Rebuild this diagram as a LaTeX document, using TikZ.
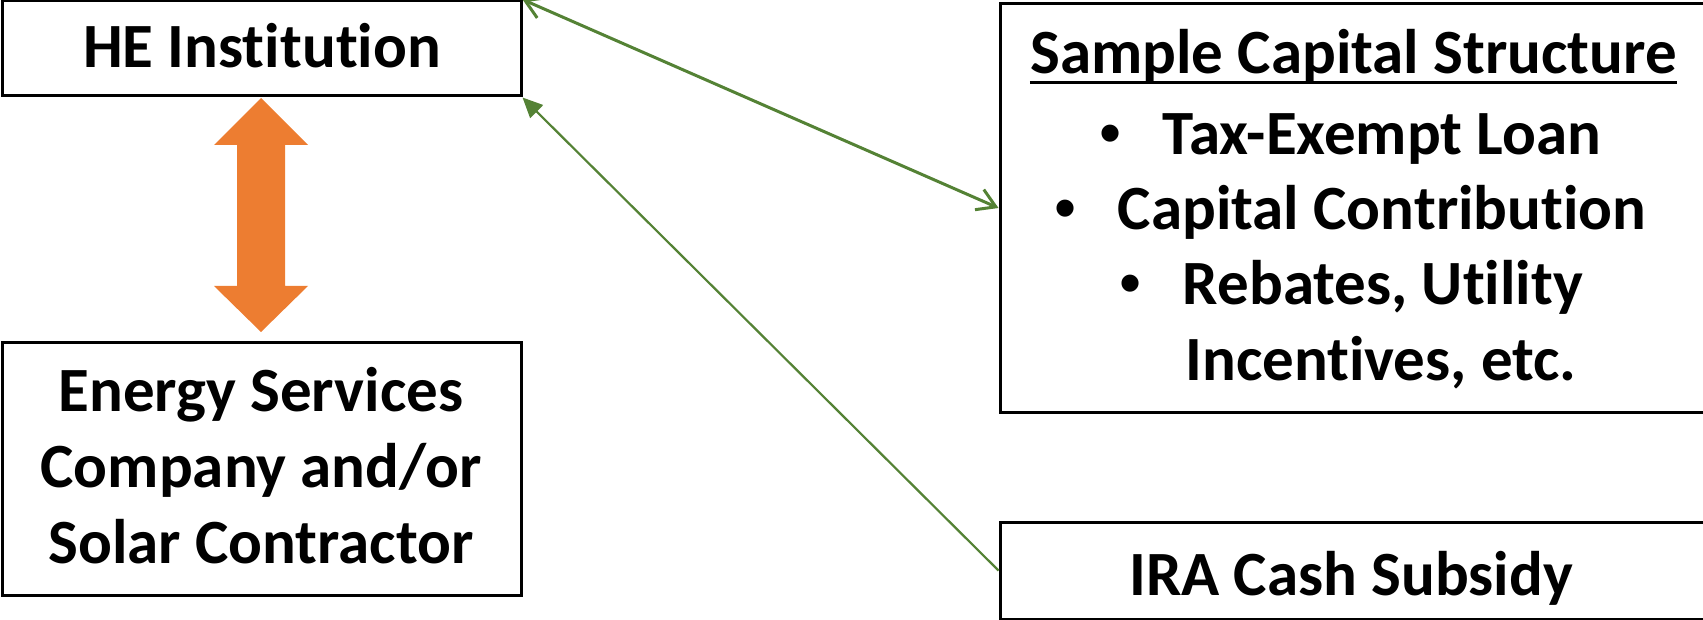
\documentclass[tikz,border=0pt]{standalone}
\usepackage{fontspec}
\setmainfont{Carlito}[Ligatures={NoCommon,NoContextual,NoRare}]
\newfontfamily\bulletfont{Liberation Sans}
\usetikzlibrary{arrows.meta}
\definecolor{blockorange}{HTML}{ED7D31}
\definecolor{linkgreen}{HTML}{548235}
\begin{document}
\begin{tikzpicture}[x=0.5pt,y=-0.5pt,
  box/.style={draw=black,line width=1.5pt,rectangle,inner sep=0pt},
  txt/.style={font=\fontsize{31.5}{38}\selectfont\bfseries,inner sep=0pt,anchor=base},
  bul/.style={font=\fontsize{31.5}{38}\selectfont\bulletfont,inner sep=0pt,anchor=base},
  linkthick/.style={draw=linkgreen,line width=1.5pt,
    {Straight Barb[length=9pt,width=11pt,line width=1.5pt]}-{Straight Barb[length=9pt,width=11pt,line width=1.5pt]}},
  linkthin/.style={draw=linkgreen,line width=1.1pt,-{Triangle[length=10pt,width=9pt]}}]
\useasboundingbox (0,0) rectangle (1703,620);
\clip (0,0) rectangle (1703,620);
% boxes
\node[box,minimum width=259.5pt,minimum height=47.5pt] (he) at (261.5,48.5) {};
\node[box,minimum width=259.5pt,minimum height=126pt] (esco) at (261.5,469) {};
\node[box,minimum width=360pt,minimum height=204pt] (sample) at (1360,208) {};
\node[box,minimum width=360pt,minimum height=48.5pt] (ira) at (1360,570.5) {};
% texts
\node[txt] (het) at (262,68) {HE Institution};
\node[txt] (es1) at (261,411) {Energy Services};
\node[txt] (es2) at (261,487) {Company and/or};
\node[txt] (es3) at (261,563) {Solar Contractor};
\node[txt] (title) at (1353.5,74) {Sample Capital Structure};
\draw[line width=1.5pt] ([yshift=-4.5pt]title.base west) -- ([yshift=-4.5pt]title.base east);
\node[txt] (l1) at (1382,155) {Tax-Exempt Loan};
\node[txt] (l2) at (1382,230) {Capital Contribution};
\node[txt] (l3) at (1383,305) {Rebates, Utility};
\node[txt] (l4) at (1381,380) {Incentives, etc.};
\node[bul] (b1) at ([xshift=-26pt]l1.base west) {•};
\node[bul] (b2) at ([xshift=-26pt]l2.base west) {•};
\node[bul] (b3) at ([xshift=-26pt]l3.base west) {•};
\node[txt] (irat) at (1351,595) {IRA Cash Subsidy};
% orange double block arrow
\fill[blockorange] (261,98) -- (308,145) -- (285,145) -- (285,286) -- (308,286)
  -- (261,332) -- (214,286) -- (237,286) -- (237,145) -- (214,145) -- cycle;
% green connectors
\draw[linkthick] (he.north east) -- (sample.west);
\draw[linkthin] (ira.west) -- (he.south east);
\end{tikzpicture}
\end{document}
